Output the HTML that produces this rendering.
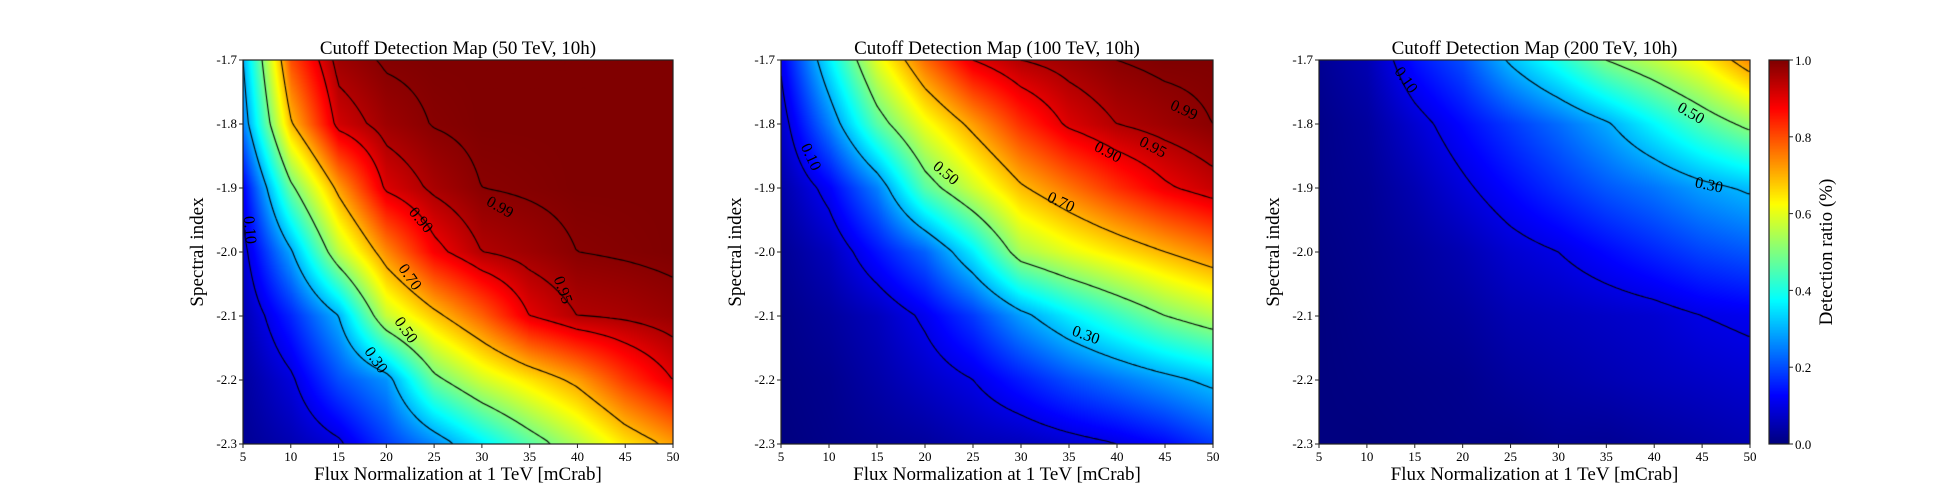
<!DOCTYPE html>
<html><head><meta charset="utf-8">
<style>
body{margin:0;background:#fff;width:1944px;height:504px;overflow:hidden;position:relative;font-family:"Liberation Serif",serif}
canvas{position:absolute}
svg{position:absolute;left:0;top:0}
</style></head>
<body>
<canvas id="c1" style="left:243px;top:60px" width="430" height="384"></canvas>
<canvas id="c2" style="left:781px;top:60px" width="432" height="384"></canvas>
<canvas id="c3" style="left:1319px;top:60px" width="431" height="384"></canvas>
<canvas id="cb" style="left:1769px;top:60px" width="20" height="384"></canvas>
<svg id="ov" width="1944" height="504"></svg>
<script>
const xCats=[5,10,15,20,25,30,35,40,45,50];
const yCats=[-1.7,-1.8,-1.9,-2.0,-2.1,-2.2,-2.3];
const xTicks=["5","10","15","20","25","30","35","40","45","50"];
const yTicks=["-1.7","-1.8","-1.9","-2.0","-2.1","-2.2","-2.3"];
const cbTicks=["0.0","0.2","0.4","0.6","0.8","1.0"];
const titles=["Cutoff Detection Map (50 TeV, 10h)","Cutoff Detection Map (100 TeV, 10h)","Cutoff Detection Map (200 TeV, 10h)"];
const map50=[
[0.3,0.8,0.97,0.995,1,1,1,1,1,1],
[0.25,0.69,0.92,0.97,0.992,1,1,1,1,1],
[0.12,0.48,0.72,0.91,0.96,0.99,0.995,1,1,1],
[0.08,0.29,0.56,0.74,0.88,0.95,0.97,0.99,0.995,1],
[0.05,0.16,0.3,0.57,0.68,0.78,0.9,0.95,0.96,0.975],
[0.03,0.09,0.2,0.27,0.48,0.58,0.65,0.72,0.82,0.9],
[0.02,0.05,0.09,0.18,0.26,0.36,0.46,0.55,0.65,0.72]];
const map100=[
[0.11,0.36,0.6,0.77,0.9,0.95,0.97,0.99,1,1],
[0.07,0.25,0.46,0.61,0.72,0.83,0.91,0.95,0.97,0.99],
[0.04,0.12,0.25,0.46,0.58,0.69,0.76,0.83,0.89,0.93],
[0.02,0.06,0.14,0.22,0.36,0.54,0.6,0.65,0.7,0.75],
[0.01,0.03,0.06,0.11,0.18,0.28,0.36,0.43,0.5,0.55],
[0.005,0.015,0.04,0.07,0.1,0.15,0.2,0.24,0.28,0.32],
[0,0.01,0.02,0.03,0.05,0.06,0.08,0.1,0.13,0.18]];
const map200=[
[0.02,0.05,0.14,0.2,0.31,0.4,0.5,0.56,0.63,0.74],
[0.01,0.03,0.08,0.13,0.18,0.23,0.29,0.37,0.45,0.52],
[0.01,0.02,0.05,0.09,0.13,0.17,0.21,0.24,0.28,0.31],
[0.005,0.015,0.03,0.05,0.08,0.1,0.13,0.16,0.19,0.21],
[0,0.01,0.02,0.03,0.05,0.06,0.07,0.08,0.1,0.11],
[0,0.005,0.01,0.015,0.03,0.04,0.05,0.06,0.07,0.08],
[0,0,0.005,0.01,0.01,0.02,0.02,0.03,0.04,0.05]];
const levelsA=[0.1,0.3,0.5,0.7,0.9,0.95,0.99];
const levelsB=[0.1,0.3,0.5,0.7];
const labels1=[["0.99",500,207,30],["0.90",421,220,50],["0.70",410,277,55],["0.50",406,330,55],["0.30",376,360,55],["0.95",563,290,70],["0.10",250,230,85]];
const labels2=[["0.99",1184,110,25],["0.95",1153,147,28],["0.90",1108,152,28],["0.70",1061,202,25],["0.50",946,173,40],["0.30",1086,335,20],["0.10",811,157,65]];
const labels3=[["0.10",1406,80,55],["0.50",1691,113,30],["0.30",1709,185,12]];

const plots=[{id:'c1',L:243,R:673,d:map50,lv:levelsA,lb:labels1},{id:'c2',L:781,R:1213,d:map100,lv:levelsA,lb:labels2},{id:'c3',L:1319,R:1750,d:map200,lv:levelsB,lb:labels3}];
const T=60,B=444;
function cl(v){return Math.max(0,Math.min(1,v));}
function jet(v){return [cl(1.5-Math.abs(4*v-3)),cl(1.5-Math.abs(4*v-2)),cl(1.5-Math.abs(4*v-1))].map(c=>Math.round(c*255));}
function sample(d,fx,fy){
 const gx=fx*(xCats.length-1),gy=fy*(yCats.length-1);
 const i=Math.min(Math.floor(gx),xCats.length-2),j=Math.min(Math.floor(gy),yCats.length-2);
 const tx=gx-i,ty=gy-j;
 return d[j][i]*(1-tx)*(1-ty)+d[j][i+1]*tx*(1-ty)+d[j+1][i]*(1-tx)*ty+d[j+1][i+1]*tx*ty;}
plots.forEach(p=>{
 const c=document.getElementById(p.id),ctx=c.getContext('2d'),W=c.width,H=c.height;
 const img=ctx.createImageData(W,H);
 for(let y=0;y<H;y++)for(let x=0;x<W;x++){const v=sample(p.d,x/(W-1),y/(H-1));const col=jet(v);const k=(y*W+x)*4;img.data[k]=col[0];img.data[k+1]=col[1];img.data[k+2]=col[2];img.data[k+3]=255;}
 ctx.putImageData(img,0,0);
 const s=3,nx=Math.ceil(W/s),ny=Math.ceil(H/s);
 const g=[];for(let j=0;j<=ny;j++){g[j]=[];for(let i=0;i<=nx;i++)g[j][i]=sample(p.d,Math.min(1,i*s/(W-1)),Math.min(1,j*s/(H-1)));}
 ctx.strokeStyle='#000';ctx.lineWidth=1.1;ctx.beginPath();
 p.lv.forEach(L=>{
  for(let j=0;j<ny;j++)for(let i=0;i<nx;i++){
   const a=g[j][i],b=g[j][i+1],cc=g[j+1][i+1],dd=g[j+1][i];const pts=[];
   const e=(v1,v2,x1,y1,x2,y2)=>{if((v1<L)!==(v2<L)){const t=(L-v1)/(v2-v1);pts.push([(x1+(x2-x1)*t)*s,(y1+(y2-y1)*t)*s]);}};
   e(a,b,i,j,i+1,j);e(b,cc,i+1,j,i+1,j+1);e(dd,cc,i,j+1,i+1,j+1);e(a,dd,i,j,i,j+1);
   for(let k=0;k+1<pts.length;k+=2){ctx.moveTo(pts[k][0],pts[k][1]);ctx.lineTo(pts[k+1][0],pts[k+1][1]);}
  }});
 ctx.stroke();
});
const cb=document.getElementById('cb').getContext('2d');
for(let y=0;y<384;y++){const col=jet(1-y/383);cb.fillStyle=`rgb(${col})`;cb.fillRect(0,y,20,1);}
const ov=document.getElementById('ov');const NS='http://www.w3.org/2000/svg';
function mk(tag,attrs,txt){const e=document.createElementNS(NS,tag);for(const k in attrs)e.setAttribute(k,attrs[k]);if(txt!==undefined)e.textContent=txt;ov.appendChild(e);return e;}
plots.forEach((p,pi)=>{
 const xs=v=>p.L+(v-5)/45*(p.R-p.L);const ys=v=>T+(-1.7-v)/0.6*(B-T);
 let e=mk('rect',{x:p.L,y:T,width:p.R-p.L,height:B-T,fill:'none',stroke:'#222','stroke-width':1.2});
 
 e=mk('text',{x:(p.L+p.R)/2,y:54,'text-anchor':'middle','font-size':19},titles[pi]);
 
 xCats.forEach((v,i)=>{mk('line',{x1:xs(v),x2:xs(v),y1:B,y2:B+4,stroke:'#222'});
  e=mk('text',{x:xs(v),y:B+17,'text-anchor':'middle','font-size':13},xTicks[i]);
  });
 yCats.forEach((v,i)=>{mk('line',{x1:p.L-4,x2:p.L,y1:ys(v),y2:ys(v),stroke:'#222'});
  e=mk('text',{x:p.L-6,y:ys(v)+4,'text-anchor':'end','font-size':13},yTicks[i]);
  });
 e=mk('text',{x:(p.L+p.R)/2,y:480,'text-anchor':'middle','font-size':19},'Flux Normalization at 1 TeV [mCrab]');
 
 const yx=p.L-40;
 e=mk('text',{x:yx,y:(T+B)/2,'text-anchor':'middle','font-size':19,transform:`rotate(-90 ${yx} ${(T+B)/2})`},'Spectral index');
 
 p.lb.forEach(l=>{e=mk('text',{x:l[1],y:l[2]+5,'text-anchor':'middle','font-size':16,transform:`rotate(${l[3]} ${l[1]} ${l[2]})`},l[0]);
  });
});
let e=mk('rect',{x:1769,y:T,width:20,height:B-T,fill:'none',stroke:'#222','stroke-width':1.2});

cbTicks.forEach((t,i)=>{const y=B-i/5*(B-T);mk('line',{x1:1789,x2:1793,y1:y,y2:y,stroke:'#222'});
 e=mk('text',{x:1795,y:y+5,'font-size':13},t);
 });
e=mk('text',{x:1832,y:252,'text-anchor':'middle','font-size':19,transform:'rotate(-90 1832 252)'},'Detection ratio (%)');

</script>
</body></html>
